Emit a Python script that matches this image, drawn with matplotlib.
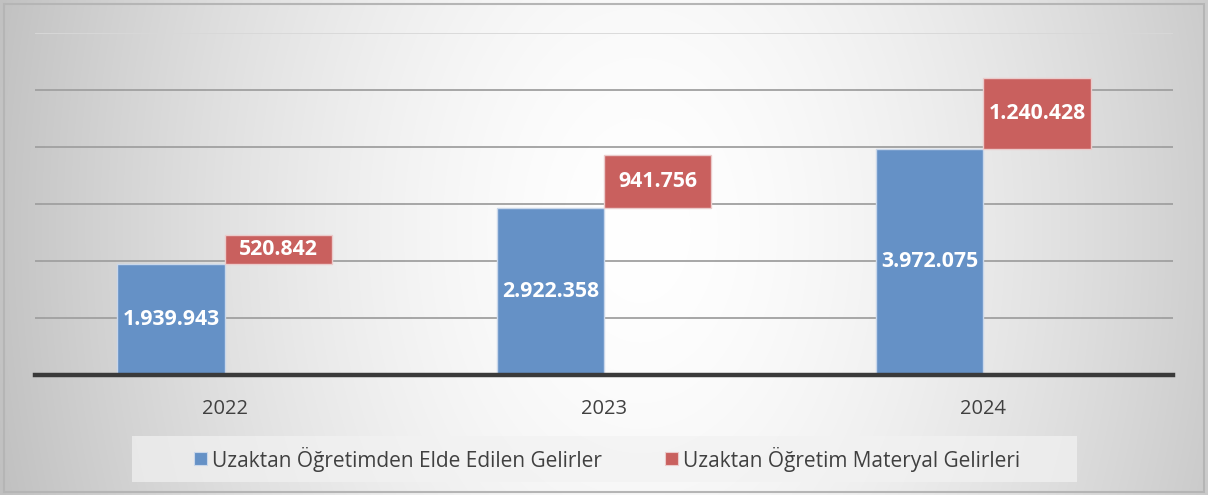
import numpy as np
import matplotlib.pyplot as plt
from matplotlib.patches import Rectangle

years = ["2022", "2023", "2024"]
egitim = [1939943, 2922358, 3972075]
materyal = [520842, 941756, 1240428]
labels_egitim = ["1.939.943", "2.922.358", "3.972.075"]
labels_materyal = ["520.842", "941.756", "1.240.428"]
series_names = ["Uzaktan Öğretimden Elde Edilen Gelirler", "Uzaktan Öğretim Materyal Gelirleri"]

W, H = 1208, 495
fig = plt.figure(figsize=(W / 100, H / 100), dpi=100)

# background radial gradient
bg = fig.add_axes([0, 0, 1, 1])
yy, xx = np.mgrid[0:H, 0:W]
cx, cy = 640, 230
r = np.sqrt(((xx - cx) / 620.0) ** 2 + ((yy - cy) / 900.0) ** 2)
val = 1.0 - 0.22 * np.clip(r, 0, 1.2) ** 1.6
img = np.dstack([val, val, val])
bg.imshow(img, extent=[0, W, H, 0], aspect="auto", interpolation="bilinear")
bg.add_patch(Rectangle((4, 4), W - 8, H - 7, fill=False, edgecolor="#B5B5B5", lw=1.5))
bg.set_xlim(0, W)
bg.set_ylim(H, 0)
bg.axis("off")

# main axes: x 35..1173, y 33..375 (pixels from top)
ax = fig.add_axes([35 / W, (H - 375) / H, (1173 - 35) / W, (375 - 33) / H])
ax.patch.set_alpha(0)
x = np.arange(len(years))
bw = 0.283
blue = "#6591C6"
red = "#C9605E"
ax.bar(x - bw / 2, egitim, width=bw, color=blue, edgecolor="#C9D7EA", linewidth=1, zorder=3)
ax.bar(x + bw / 2, materyal, width=bw, bottom=egitim, color=red, edgecolor="#EBCBCB", linewidth=1, zorder=3)

for i in range(len(years)):
    ax.text(x[i] - bw / 2, egitim[i] / 2, labels_egitim[i], ha="center", va="center",
            color="white", fontsize=15.3, fontweight="bold", family="Open Sans", zorder=4)
    ax.text(x[i] + bw / 2, egitim[i] + materyal[i] / 2, labels_materyal[i], ha="center", va="center",
            color="white", fontsize=15.3, fontweight="bold", family="Open Sans", zorder=4)

ax.set_xlim(-0.5, len(years) - 0.5)
ax.set_ylim(0, 6000000)
ax.set_yticks(np.arange(0, 6000001, 1000000))
ax.yaxis.grid(True, color="#A0A0A0", lw=1.3, zorder=0)
gl = ax.get_ygridlines()
gl[-1].set_color("#D8D8D8")
ax.tick_params(axis="y", left=False, labelleft=False)
ax.tick_params(axis="x", bottom=False, pad=14)
ax.set_xticks(x)
ax.set_xticklabels(years, fontsize=14.5, color="#404040", family="Open Sans")
for s in ["top", "right", "left"]:
    ax.spines[s].set_visible(False)
ax.spines["bottom"].set_color("#3A3A3A")
ax.spines["bottom"].set_linewidth(3.2)
ax.spines["bottom"].set_zorder(5)

# legend box
bg.add_patch(Rectangle((132, 436), 1077 - 132, 46, facecolor="#F2F2F2", alpha=0.7, edgecolor="none"))
fs = 15
bg.add_patch(Rectangle((194, 452), 13, 13, facecolor=blue, edgecolor="#C9D7EA", lw=0.8))
bg.text(212, 459, series_names[0], fontsize=fs, color="#404040", va="center", ha="left", family="Open Sans")
bg.add_patch(Rectangle((665, 452), 13, 13, facecolor=red, edgecolor="#EBCBCB", lw=0.8))
bg.text(683, 459, series_names[1], fontsize=fs, color="#404040", va="center", ha="left", family="Open Sans")

fig.savefig("out.png", dpi=100)
